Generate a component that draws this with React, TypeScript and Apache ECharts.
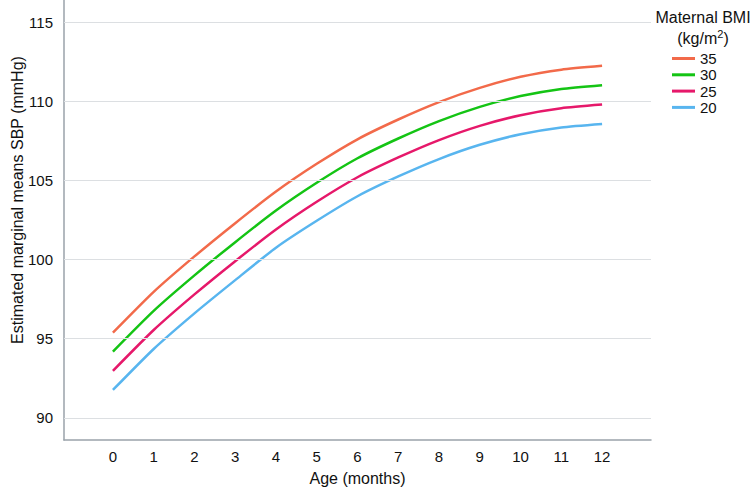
import React, { useEffect, useRef } from "react";
import * as echarts from "echarts";

const months = [0, 1, 2, 3, 4, 5, 6, 7, 8, 9, 10, 11, 12];
const bmi35 = [95.38, 97.96, 100.2, 102.3, 104.3, 106.05, 107.6, 108.85, 109.95, 110.85, 111.55, 112.0, 112.24];
const bmi30 = [94.19, 96.76, 99.0, 101.1, 103.1, 104.85, 106.4, 107.65, 108.75, 109.65, 110.33, 110.78, 111.02];
const bmi25 = [92.97, 95.55, 97.8, 99.9, 101.9, 103.65, 105.2, 106.45, 107.55, 108.45, 109.12, 109.56, 109.79];
const bmi20 = [91.76, 94.35, 96.6, 98.7, 100.75, 102.45, 104.0, 105.25, 106.35, 107.25, 107.92, 108.35, 108.57];
const seriesNames = ["35", "30", "25", "20"];
const yTicks = [90, 95, 100, 105, 110, 115];

const colors = ["#f26a4a", "#14c414", "#e6186a", "#58b5ef"];
const FONT = "Liberation Sans, Arial, sans-serif";

export default function App() {
  const ref = useRef<HTMLDivElement>(null);
  useEffect(() => {
    if (!ref.current) return;
    const chart = echarts.init(ref.current, null, { renderer: "svg" });
    const data = [bmi35, bmi30, bmi25, bmi20];
    chart.setOption({
      animation: false,
      textStyle: { fontFamily: FONT },
      grid: { left: 64, right: 102, top: 0, bottom: 49 },
      legend: {
        orient: "vertical",
        left: 667,
        top: 46,
        itemWidth: 23,
        itemHeight: 3,
        itemGap: 1.3,
        icon: "rect",
        data: seriesNames,
        textStyle: { fontSize: 15, color: "#111", fontFamily: FONT, lineHeight: 14 },
      },
      graphic: [
        {
          type: "text",
          x: 703,
          y: 17,
          style: {
            text: "Maternal BMI",
            fontSize: 16,
            fill: "#111",
            fontFamily: FONT,
            align: "center",
            verticalAlign: "middle",
          },
        },
        {
          type: "text",
          x: 703,
          y: 38,
          style: {
            text: "(kg/m{s|2})",
            fontSize: 16,
            fill: "#111",
            fontFamily: FONT,
            align: "center",
            verticalAlign: "middle",
            rich: { s: { fontSize: 11, verticalAlign: "top", padding: [0, 0, 8, 0], fill: "#111", fontFamily: FONT } },
          },
        },
        {
          type: "text",
          x: 17,
          y: 200,
          rotation: Math.PI / 2,
          style: {
            text: "Estimated marginal means SBP (mmHg)",
            fontSize: 16,
            fill: "#111",
            fontFamily: FONT,
            align: "center",
            verticalAlign: "middle",
          },
        },
      ],
      xAxis: {
        type: "value",
        min: -1.2,
        max: 13.2,
        name: "Age (months)",
        nameLocation: "middle",
        nameGap: 30,
        nameTextStyle: { fontSize: 16, color: "#111", fontFamily: FONT },
        axisLine: { show: true, onZero: false, lineStyle: { color: "#9aa2aa", width: 1.5 } },
        axisTick: { show: false },
        splitLine: { show: false },
        axisLabel: {
          customValues: months,
          fontSize: 15,
          color: "#111",
          margin: 9,
          fontFamily: FONT,
        },
      },
      yAxis: {
        type: "value",
        min: 88.6,
        max: 116.4,
        axisLine: { show: true, onZero: false, lineStyle: { color: "#9aa2aa", width: 1.5 } },
        axisTick: { show: false },
        axisLabel: {
          customValues: yTicks,
          fontSize: 15,
          color: "#111",
          margin: 11,
          fontFamily: FONT,
        },
        splitLine: { show: false },
      },
      series: [
        ...seriesNames.map((n, i) => ({
          name: n,
          type: "line",
          data: months.map((m, j) => [m, data[i][j]]),
          showSymbol: false,
          symbol: "none",
          smooth: 0.2,
          lineStyle: { color: colors[i], width: 2.5 },
          itemStyle: { color: colors[i] },
          z: 3,
        })),
        {
          name: "grid",
          type: "line",
          data: [],
          markLine: {
            silent: true,
            symbol: "none",
            label: { show: false },
            lineStyle: { color: "#dcdfe2", width: 1, type: "solid" },
            data: yTicks.map((v) => ({ yAxis: v })),
          },
          z: 1,
        },
      ],
    });
    return () => chart.dispose();
  }, []);
  return <div ref={ref} style={{ position: "absolute", left: 0, top: 0, width: 753, height: 491 }} />;
}
